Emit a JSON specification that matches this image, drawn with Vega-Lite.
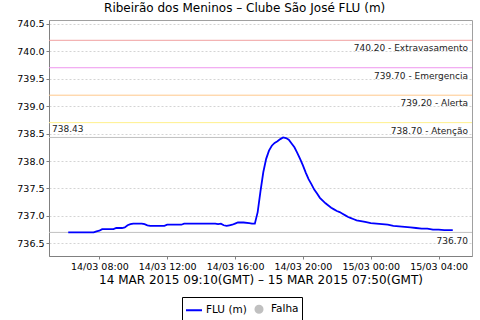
{
  "$schema": "https://vega.github.io/schema/vega-lite/v6.json",
  "width": 423,
  "height": 236,
  "autosize": {"type": "none"},
  "padding": {"left": 49, "top": 20, "right": 8, "bottom": 64},
  "background": "white",
  "title": {
    "text": "Ribeirão dos Meninos – Clube São José FLU (m)",
    "font": "DejaVu Sans",
    "fontSize": 12,
    "fontWeight": "normal",
    "color": "#000000",
    "anchor": "middle",
    "frame": "bounds",
    "offset": 4
  },
  "config": {
    "view": {"stroke": "#a0a0a0"},
    "axis": {
      "domainColor": "#808080",
      "tickColor": "#808080",
      "gridColor": "#d4d4d4",
      "gridDash": [2, 2],
      "labelFont": "DejaVu Sans",
      "labelFontSize": 9.5,
      "labelColor": "#000000",
      "labelOverlap": false,
      "tickSize": 3,
      "titleFont": "DejaVu Sans",
      "titleFontWeight": "normal",
      "titleColor": "#000000"
    },
    "axisY": {"labelOverlap": false, "labelFlush": false}
  },
  "datasets": {
    "flu": [
      {"t": "2015-03-14T06:10:00", "v": 736.70, "serie": "FLU (m)"},
      {"t": "2015-03-14T06:20:00", "v": 736.70, "serie": "FLU (m)"},
      {"t": "2015-03-14T06:40:00", "v": 736.70, "serie": "FLU (m)"},
      {"t": "2015-03-14T07:00:00", "v": 736.70, "serie": "FLU (m)"},
      {"t": "2015-03-14T07:20:00", "v": 736.70, "serie": "FLU (m)"},
      {"t": "2015-03-14T07:40:00", "v": 736.70, "serie": "FLU (m)"},
      {"t": "2015-03-14T07:50:00", "v": 736.72, "serie": "FLU (m)"},
      {"t": "2015-03-14T08:00:00", "v": 736.73, "serie": "FLU (m)"},
      {"t": "2015-03-14T08:10:00", "v": 736.76, "serie": "FLU (m)"},
      {"t": "2015-03-14T08:30:00", "v": 736.76, "serie": "FLU (m)"},
      {"t": "2015-03-14T08:50:00", "v": 736.76, "serie": "FLU (m)"},
      {"t": "2015-03-14T09:00:00", "v": 736.78, "serie": "FLU (m)"},
      {"t": "2015-03-14T09:20:00", "v": 736.78, "serie": "FLU (m)"},
      {"t": "2015-03-14T09:30:00", "v": 736.79, "serie": "FLU (m)"},
      {"t": "2015-03-14T09:40:00", "v": 736.83, "serie": "FLU (m)"},
      {"t": "2015-03-14T09:50:00", "v": 736.85, "serie": "FLU (m)"},
      {"t": "2015-03-14T10:00:00", "v": 736.86, "serie": "FLU (m)"},
      {"t": "2015-03-14T10:30:00", "v": 736.86, "serie": "FLU (m)"},
      {"t": "2015-03-14T10:40:00", "v": 736.85, "serie": "FLU (m)"},
      {"t": "2015-03-14T10:50:00", "v": 736.83, "serie": "FLU (m)"},
      {"t": "2015-03-14T11:00:00", "v": 736.82, "serie": "FLU (m)"},
      {"t": "2015-03-14T11:50:00", "v": 736.82, "serie": "FLU (m)"},
      {"t": "2015-03-14T12:00:00", "v": 736.84, "serie": "FLU (m)"},
      {"t": "2015-03-14T12:50:00", "v": 736.84, "serie": "FLU (m)"},
      {"t": "2015-03-14T13:00:00", "v": 736.86, "serie": "FLU (m)"},
      {"t": "2015-03-14T14:50:00", "v": 736.86, "serie": "FLU (m)"},
      {"t": "2015-03-14T15:00:00", "v": 736.85, "serie": "FLU (m)"},
      {"t": "2015-03-14T15:10:00", "v": 736.86, "serie": "FLU (m)"},
      {"t": "2015-03-14T15:20:00", "v": 736.83, "serie": "FLU (m)"},
      {"t": "2015-03-14T15:30:00", "v": 736.82, "serie": "FLU (m)"},
      {"t": "2015-03-14T15:40:00", "v": 736.83, "serie": "FLU (m)"},
      {"t": "2015-03-14T15:50:00", "v": 736.84, "serie": "FLU (m)"},
      {"t": "2015-03-14T16:00:00", "v": 736.86, "serie": "FLU (m)"},
      {"t": "2015-03-14T16:10:00", "v": 736.88, "serie": "FLU (m)"},
      {"t": "2015-03-14T16:30:00", "v": 736.88, "serie": "FLU (m)"},
      {"t": "2015-03-14T16:50:00", "v": 736.87, "serie": "FLU (m)"},
      {"t": "2015-03-14T17:00:00", "v": 736.86, "serie": "FLU (m)"},
      {"t": "2015-03-14T17:10:00", "v": 736.86, "serie": "FLU (m)"},
      {"t": "2015-03-14T17:20:00", "v": 737.07, "serie": "FLU (m)"},
      {"t": "2015-03-14T17:30:00", "v": 737.45, "serie": "FLU (m)"},
      {"t": "2015-03-14T17:40:00", "v": 737.80, "serie": "FLU (m)"},
      {"t": "2015-03-14T17:50:00", "v": 738.04, "serie": "FLU (m)"},
      {"t": "2015-03-14T18:00:00", "v": 738.19, "serie": "FLU (m)"},
      {"t": "2015-03-14T18:10:00", "v": 738.28, "serie": "FLU (m)"},
      {"t": "2015-03-14T18:20:00", "v": 738.33, "serie": "FLU (m)"},
      {"t": "2015-03-14T18:30:00", "v": 738.36, "serie": "FLU (m)"},
      {"t": "2015-03-14T18:40:00", "v": 738.40, "serie": "FLU (m)"},
      {"t": "2015-03-14T18:50:00", "v": 738.43, "serie": "FLU (m)"},
      {"t": "2015-03-14T19:00:00", "v": 738.42, "serie": "FLU (m)"},
      {"t": "2015-03-14T19:10:00", "v": 738.39, "serie": "FLU (m)"},
      {"t": "2015-03-14T19:20:00", "v": 738.32, "serie": "FLU (m)"},
      {"t": "2015-03-14T19:30:00", "v": 738.25, "serie": "FLU (m)"},
      {"t": "2015-03-14T19:40:00", "v": 738.15, "serie": "FLU (m)"},
      {"t": "2015-03-14T19:50:00", "v": 738.04, "serie": "FLU (m)"},
      {"t": "2015-03-14T20:00:00", "v": 737.92, "serie": "FLU (m)"},
      {"t": "2015-03-14T20:10:00", "v": 737.79, "serie": "FLU (m)"},
      {"t": "2015-03-14T20:20:00", "v": 737.67, "serie": "FLU (m)"},
      {"t": "2015-03-14T20:30:00", "v": 737.58, "serie": "FLU (m)"},
      {"t": "2015-03-14T20:40:00", "v": 737.48, "serie": "FLU (m)"},
      {"t": "2015-03-14T20:50:00", "v": 737.41, "serie": "FLU (m)"},
      {"t": "2015-03-14T21:00:00", "v": 737.33, "serie": "FLU (m)"},
      {"t": "2015-03-14T21:10:00", "v": 737.28, "serie": "FLU (m)"},
      {"t": "2015-03-14T21:20:00", "v": 737.23, "serie": "FLU (m)"},
      {"t": "2015-03-14T21:30:00", "v": 737.19, "serie": "FLU (m)"},
      {"t": "2015-03-14T21:40:00", "v": 737.15, "serie": "FLU (m)"},
      {"t": "2015-03-14T21:50:00", "v": 737.12, "serie": "FLU (m)"},
      {"t": "2015-03-14T22:00:00", "v": 737.09, "serie": "FLU (m)"},
      {"t": "2015-03-14T22:10:00", "v": 737.07, "serie": "FLU (m)"},
      {"t": "2015-03-14T22:20:00", "v": 737.04, "serie": "FLU (m)"},
      {"t": "2015-03-14T22:30:00", "v": 737.01, "serie": "FLU (m)"},
      {"t": "2015-03-14T22:40:00", "v": 736.98, "serie": "FLU (m)"},
      {"t": "2015-03-14T22:50:00", "v": 736.96, "serie": "FLU (m)"},
      {"t": "2015-03-14T23:00:00", "v": 736.94, "serie": "FLU (m)"},
      {"t": "2015-03-14T23:10:00", "v": 736.92, "serie": "FLU (m)"},
      {"t": "2015-03-14T23:20:00", "v": 736.91, "serie": "FLU (m)"},
      {"t": "2015-03-14T23:40:00", "v": 736.89, "serie": "FLU (m)"},
      {"t": "2015-03-15T00:00:00", "v": 736.87, "serie": "FLU (m)"},
      {"t": "2015-03-15T00:20:00", "v": 736.86, "serie": "FLU (m)"},
      {"t": "2015-03-15T00:40:00", "v": 736.85, "serie": "FLU (m)"},
      {"t": "2015-03-15T01:00:00", "v": 736.84, "serie": "FLU (m)"},
      {"t": "2015-03-15T01:20:00", "v": 736.82, "serie": "FLU (m)"},
      {"t": "2015-03-15T01:40:00", "v": 736.81, "serie": "FLU (m)"},
      {"t": "2015-03-15T02:00:00", "v": 736.80, "serie": "FLU (m)"},
      {"t": "2015-03-15T02:20:00", "v": 736.79, "serie": "FLU (m)"},
      {"t": "2015-03-15T02:40:00", "v": 736.78, "serie": "FLU (m)"},
      {"t": "2015-03-15T03:00:00", "v": 736.77, "serie": "FLU (m)"},
      {"t": "2015-03-15T03:20:00", "v": 736.77, "serie": "FLU (m)"},
      {"t": "2015-03-15T03:40:00", "v": 736.75, "serie": "FLU (m)"},
      {"t": "2015-03-15T04:00:00", "v": 736.75, "serie": "FLU (m)"},
      {"t": "2015-03-15T04:20:00", "v": 736.74, "serie": "FLU (m)"},
      {"t": "2015-03-15T04:40:00", "v": 736.74, "serie": "FLU (m)"},
      {"t": "2015-03-15T04:50:00", "v": 736.74, "serie": "FLU (m)"}
    ],
    "limites": [
      {"nivel": "Extravasamento", "v": 740.20, "rotulo": "740.20 - Extravasamento"},
      {"nivel": "Emergencia", "v": 739.70, "rotulo": "739.70 - Emergencia"},
      {"nivel": "Alerta", "v": 739.20, "rotulo": "739.20 - Alerta"},
      {"nivel": "Atenção", "v": 738.70, "rotulo": "738.70 - Atenção"}
    ],
    "extremos": [
      {"tipo": "max", "v": 738.43, "rotulo": "738.43"},
      {"tipo": "min", "v": 736.70, "rotulo": "736.70"}
    ]
  },
  "layer": [
    {
      "data": {"name": "limites"},
      "transform": [{"filter": "datum.nivel == 'Extravasamento'"}],
      "mark": {"type": "rule", "strokeWidth": 1, "color": "#f0a0a0"},
      "encoding": {"y": {"field": "v", "type": "quantitative"}}
    },
    {
      "data": {"name": "limites"},
      "transform": [{"filter": "datum.nivel == 'Emergencia'"}],
      "mark": {"type": "rule", "strokeWidth": 1, "color": "#ee96ee"},
      "encoding": {"y": {"field": "v", "type": "quantitative"}}
    },
    {
      "data": {"name": "limites"},
      "transform": [{"filter": "datum.nivel == 'Alerta'"}],
      "mark": {"type": "rule", "strokeWidth": 1, "color": "#ffc88c"},
      "encoding": {"y": {"field": "v", "type": "quantitative"}}
    },
    {
      "data": {"name": "limites"},
      "transform": [{"filter": "datum.nivel == 'Atenção'"}],
      "mark": {"type": "rule", "strokeWidth": 1, "color": "#fff08c"},
      "encoding": {"y": {"field": "v", "type": "quantitative"}}
    },
    {
      "data": {"name": "extremos"},
      "mark": {"type": "rule", "strokeWidth": 1, "color": "#c0c0c0"},
      "encoding": {"y": {"field": "v", "type": "quantitative"}}
    },
    {
      "data": {"name": "limites"},
      "mark": {"type": "text", "align": "right", "baseline": "top", "dx": -4, "dy": 4, "fontSize": 9, "font": "DejaVu Sans", "color": "#222222"},
      "encoding": {
        "x": {"datum": {"year": 2015, "month": 3, "date": 15, "hours": 5, "minutes": 58}, "type": "temporal"},
        "y": {"field": "v", "type": "quantitative"},
        "text": {"field": "rotulo", "type": "nominal"}
      }
    },
    {
      "data": {"name": "extremos"},
      "transform": [{"filter": "datum.tipo == 'max'"}],
      "mark": {"type": "text", "align": "left", "baseline": "alphabetic", "dx": 3, "dy": -5, "fontSize": 9, "font": "DejaVu Sans", "color": "#222222"},
      "encoding": {
        "x": {"datum": {"year": 2015, "month": 3, "date": 14, "hours": 5, "minutes": 2}, "type": "temporal"},
        "y": {"field": "v", "type": "quantitative"},
        "text": {"field": "rotulo", "type": "nominal"}
      }
    },
    {
      "data": {"name": "extremos"},
      "transform": [{"filter": "datum.tipo == 'min'"}],
      "mark": {"type": "text", "align": "right", "baseline": "top", "dx": -4, "dy": 5, "fontSize": 9, "font": "DejaVu Sans", "color": "#222222"},
      "encoding": {
        "x": {"datum": {"year": 2015, "month": 3, "date": 15, "hours": 5, "minutes": 58}, "type": "temporal"},
        "y": {"field": "v", "type": "quantitative"},
        "text": {"field": "rotulo", "type": "nominal"}
      }
    },
    {
      "data": {"name": "flu"},
      "mark": {"type": "line", "strokeWidth": 1.8},
      "encoding": {
        "y": {
          "field": "v",
          "type": "quantitative",
          "scale": {"domain": [736.27, 740.57], "nice": false, "zero": false},
          "axis": {
            "title": null,
            "values": [736.5, 737, 737.5, 738, 738.5, 739, 739.5, 740, 740.5],
            "tickCount": 12,
            "format": ".1f",
            "labelPadding": 2,
            "labelOverlap": false,
            "labelFlush": false
          }
        },
        "x": {
          "field": "t",
          "type": "temporal",
          "scale": {
            "domain": [
              {"year": 2015, "month": 3, "date": 14, "hours": 5, "minutes": 2},
              {"year": 2015, "month": 3, "date": 15, "hours": 5, "minutes": 58}
            ],
            "nice": false
          },
          "axis": {
            "title": "14 MAR 2015 09:10(GMT) – 15 MAR 2015 07:50(GMT)",
            "titleFontSize": 12,
            "titlePadding": 4,
            "format": "%d/%m %H:%M",
            "values": [
              {"year": 2015, "month": 3, "date": 14, "hours": 8},
              {"year": 2015, "month": 3, "date": 14, "hours": 12},
              {"year": 2015, "month": 3, "date": 14, "hours": 16},
              {"year": 2015, "month": 3, "date": 14, "hours": 20},
              {"year": 2015, "month": 3, "date": 15, "hours": 0},
              {"year": 2015, "month": 3, "date": 15, "hours": 4}
            ],
            "tickCount": 12,
            "labelPadding": 2
          }
        },
        "color": {
          "field": "serie",
          "type": "nominal",
          "scale": {"domain": ["FLU (m)", "Falha"], "range": ["#0000ff", "#c0c0c0"]},
          "legend": {
            "title": null,
            "orient": "none",
            "legendX": 133,
            "legendY": 277,
            "direction": "horizontal",
            "strokeColor": "#000000",
            "padding": 3,
            "labelFont": "DejaVu Sans",
            "labelFontSize": 10.5,
            "labelColor": "#000000",
            "labelOffset": 3,
            "columnPadding": 3,
            "symbolSize": 256,
            "symbolStrokeWidth": 2,
            "symbolType": "stroke",
            "encode": {
              "symbols": {
                "update": {
                  "shape": {"signal": "datum.value == 'Falha' ? 'circle' : 'stroke'"},
                  "fill": {"signal": "datum.value == 'Falha' ? '#c0c0c0' : 'transparent'"},
                  "stroke": {"signal": "datum.value == 'Falha' ? 'transparent' : '#0000ff'"},
                  "size": {"signal": "datum.value == 'Falha' ? 50 : 256"}
                }
              }
            }
          }
        }
      }
    }
  ]
}
